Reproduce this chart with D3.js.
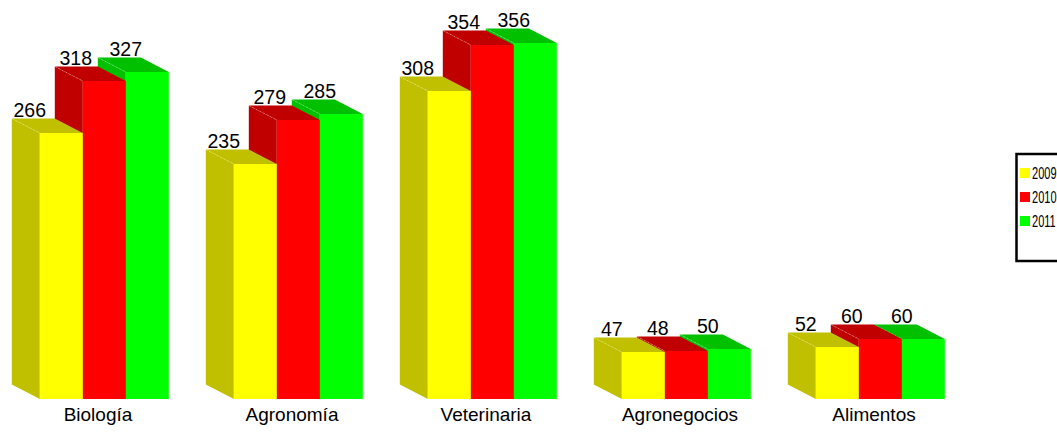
<!DOCTYPE html>
<html>
<head>
<meta charset="utf-8">
<script src="https://cdn.jsdelivr.net/npm/d3@7"></script>
<style>
  html, body { margin: 0; padding: 0; background: #fff; overflow: hidden; }
  svg { display: block; font-family: "Liberation Sans", Arial, sans-serif; }
</style>
</head>
<body>
<svg id="chart" width="1057" height="443"></svg>
<script>
// ---- data ----
const categories = ["Biología", "Agronomía", "Veterinaria", "Agronegocios", "Alimentos"];
const seriesNames = ["2009", "2010", "2011"];
const values2009 = [266, 235, 308, 47, 52];
const values2010 = [318, 279, 354, 48, 60];
const values2011 = [327, 285, 356, 50, 60];
const seriesValues = [values2009, values2010, values2011];

const frontColors = ["#FFFF00", "#FF0000", "#00FF00"];
const sideColors  = ["#C0C000", "#C00000", "#00C000"];

// ---- layout ----
const svg = d3.select("#chart");
const depthX = 28, depthY = 14.5;
const baseY = 399;

const x = d3.scaleBand().domain(categories).range([1, 971]).padding(0);
const bw = x.bandwidth();
const xs = d3.scaleBand().domain(seriesNames).range([bw * 0.2, bw * 0.2 + 129]).padding(0);
const y = d3.scaleLinear().domain([0, 400]).range([baseY, baseY - 400]);

const labelOffset = [18, 21, 28];

// build bar records, drawn from right to left (viewer is on the left)
const bars = [];
categories.forEach((c, ci) => {
  seriesNames.forEach((s, si) => {
    bars.push({ cat: c, ci, s, si, v: seriesValues[si][ci] });
  });
});
bars.sort((a, b) => (b.ci * 10 + b.si) - (a.ci * 10 + a.si));

const g = svg.append("g");
bars.forEach(d => {
  const x0 = x(d.cat) + xs(d.s);
  const w = xs.bandwidth();
  const yt = y(d.v);
  const yb = y(0);
  const grp = g.append("g");
  grp.append("polygon")
    .attr("points", [[x0, yt], [x0 - depthX, yt - depthY], [x0 - depthX, yb - depthY], [x0, yb]].map(p => p.join(",")).join(" "))
    .attr("fill", sideColors[d.si]);
  grp.append("polygon")
    .attr("points", [[x0, yt], [x0 + w, yt], [x0 + w - depthX, yt - depthY], [x0 - depthX, yt - depthY]].map(p => p.join(",")).join(" "))
    .attr("fill", sideColors[d.si]);
  grp.append("line")
    .attr("x1", x0 - depthX).attr("y1", yt - depthY)
    .attr("x2", x0).attr("y2", yt)
    .attr("stroke", "rgba(255,255,255,0.35)").attr("stroke-width", 0.8)
    .attr("stroke-dasharray", "2,2");
  grp.append("rect")
    .attr("x", x0).attr("y", yt)
    .attr("width", w).attr("height", yb - yt)
    .attr("fill", frontColors[d.si]);
});

// value labels
const labelG = svg.append("g");
bars.forEach(d => {
  const x0 = x(d.cat) + xs(d.s);
  labelG.append("text")
    .attr("x", x0 - depthX + labelOffset[d.si])
    .attr("y", y(d.v) - depthY - 2)
    .attr("text-anchor", "middle")
    .attr("font-size", 19.5)
    .attr("fill", "#000")
    .text(d.v);
});

// category labels
svg.append("g").selectAll("text")
  .data(categories).join("text")
  .attr("x", d => x(d) + bw / 2)
  .attr("y", 421)
  .attr("text-anchor", "middle")
  .attr("font-size", 19)
  .attr("fill", "#000")
  .text(d => d);

// legend
const lg = svg.append("g");
lg.append("rect")
  .attr("x", 1016.5).attr("y", 154)
  .attr("width", 60).attr("height", 107)
  .attr("fill", "#fff").attr("stroke", "#000").attr("stroke-width", 2.5);
seriesNames.forEach((s, i) => {
  const cy = 173 + i * 24;
  lg.append("rect")
    .attr("x", 1020).attr("y", cy - 5)
    .attr("width", 10).attr("height", 10)
    .attr("fill", frontColors[i]);
  lg.append("text")
    .attr("transform", `translate(1032,${cy + 6}) scale(0.69,1)`)
    .attr("font-size", 16)
    .attr("fill", "#000")
    .text(s);
});
</script>
</body>
</html>
